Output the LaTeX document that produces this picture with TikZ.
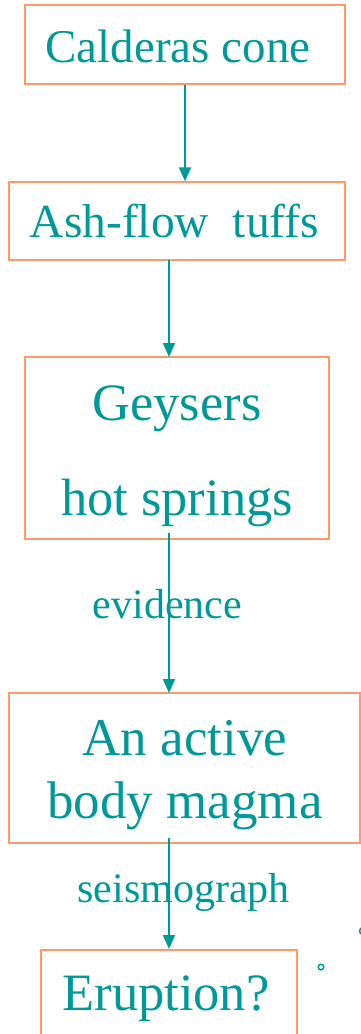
\documentclass[tikz,border=0pt]{standalone}
\usepackage{fontspec}
\setmainfont{Liberation Serif}
\usetikzlibrary{arrows.meta}
\definecolor{teal}{HTML}{009999}
\definecolor{boxorange}{HTML}{F99B6B}
\begin{document}
\begin{tikzpicture}[x=1pt,y=-1pt,
  box/.style={draw=boxorange,line width=1.5pt,inner sep=0pt},
  txt/.style={text=teal,inner sep=0pt,align=center},
  conn/.style={draw=teal,line width=2pt,-{Triangle[width=12pt,length=14pt]}},
  lbl/.style={text=teal,font=\fontsize{42}{48}\selectfont,inner sep=0pt}]
\clip (0,0) rectangle (361,1034);
\fill[white] (0,0) rectangle (361,1034);
\node[box,minimum width=320pt,minimum height=79pt] (b1) at (185,44.5) {};
\node[box,minimum width=336pt,minimum height=78pt] (b2) at (177,221) {};
\node[box,minimum width=304pt,minimum height=182pt] (b3) at (177,448) {};
\node[box,minimum width=351pt,minimum height=150pt] (b4) at (184.5,768) {};
\node[box,minimum width=256pt,minimum height=102pt,anchor=north] (b5) at (169,949) {};
\node[txt,font=\fontsize{47}{56}\selectfont] (t1) at (178,46) {Calderas cone};
\node[txt,font=\fontsize{47.5}{56}\selectfont] (t2) at (174.5,221) {Ash-flow~~tuffs};
\node[txt,font=\fontsize{52.5}{95}\selectfont] (t3) at (177,456) {Geysers\\hot springs};
\node[txt,font=\fontsize{53}{63}\selectfont] (t4) at (185,775) {An active\\body magma};
\node[txt,font=\fontsize{52.5}{60}\selectfont] (t5) at (166,999) {Eruption?};
\coordinate (s3) at (169,533);
\coordinate (s4) at (169,838);
\draw[conn] (b1.south) -- (b1.south |- b2.north);
\draw[conn] (169,260) -- (169,357);
\draw[conn] (s3) -- (169,693);
\draw[conn] (s4) -- (169,949);
\node[lbl] (e) at (167.5,604) {evidence};
\node[lbl] (sg) at (183.5,892) {seismograph};
\draw[teal,line width=1.5pt] (321,967) circle (2.8pt);
\draw[teal,line width=1.5pt] (363,931) circle (3.5pt);
\end{tikzpicture}
\end{document}
